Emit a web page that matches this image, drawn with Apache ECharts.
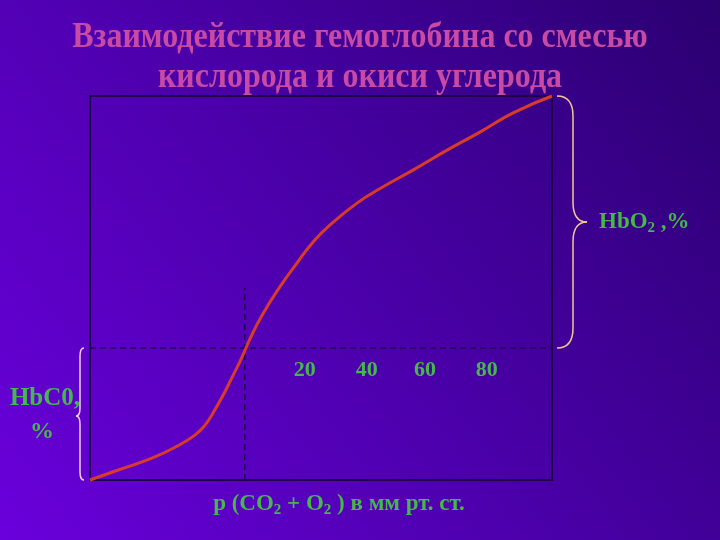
<!DOCTYPE html>
<html>
<head>
<meta charset="utf-8">
<script src="https://cdn.jsdelivr.net/npm/echarts@6/dist/echarts.min.js"></script>
<style>html,body{margin:0;padding:0;}#c{width:720px;height:540px;}</style>
</head>
<body>
<div id="c"></div>
<script>
// ---- data ----
const titleLines = ['Взаимодействие гемоглобина со смесью', 'кислорода и окиси углерода'];
const curveX = [0, 6.1, 13.4, 19.0, 22.7, 24.9, 26.6, 28.6, 30.7, 32.9, 34.6, 37.4, 41.1, 44.8, 48.3, 51.9, 57.8, 62.8, 69.9, 77.3, 84.4, 91.6, 100];
const curveY = [0, 2.6, 5.7, 8.9, 11.7, 14.3, 17.4, 21.6, 26.6, 32.0, 36.7, 43.2, 50.3, 56.5, 62.0, 66.4, 72.1, 75.9, 80.7, 85.9, 90.6, 95.6, 100];
const hLineY = 34.4;          // dashed horizontal divider level
const vLineX = 33.5;          // dashed vertical marker
const vLineTop = 50;
const tickLabels = ['20', '40', '60', '80'];
const tickPosX = [46.5, 59.9, 72.5, 85.9];
const tickPosY = 28.6;

const GREEN = '#45b84c';
const FONT = '"Liberation Serif", "Times New Roman", serif';

const chart = echarts.init(document.getElementById('c'));
const curve = curveX.map((x, i) => [x, curveY[i]]);

const option = {
  animation: false,
  backgroundColor: {
    type: 'linear', x: 0, y: 1, x2: 1, y2: 0,
    colorStops: [{offset: 0, color: '#6a00dc'}, {offset: 0.5, color: '#4a00a8'}, {offset: 1, color: '#2a0070'}]
  },
  grid: {left: 90, top: 96, right: 168, bottom: 60, show: true, borderColor: '#1c0048', borderWidth: 2, backgroundColor: 'transparent'},
  xAxis: {type: 'value', min: 0, max: 100, show: false},
  yAxis: {type: 'value', min: 0, max: 100, show: false},
  series: [
    {type: 'line', data: [[0, hLineY], [100, hLineY]], symbol: 'none', lineStyle: {color: '#220058', width: 1.5, type: [6, 4]}, z: 1},
    {type: 'line', data: [[vLineX, 0], [vLineX, vLineTop]], symbol: 'none', lineStyle: {color: '#220058', width: 1.5, type: [6, 4]}, z: 1},
    {type: 'line', data: curve, smooth: 0.5, symbol: 'none', lineStyle: {color: '#d83c28', width: 3}, z: 3}
  ]
};
chart.setOption(option);

const p = (x, y) => chart.convertToPixel({gridIndex: 0}, [x, y]);
const g = [];
// titles
titleLines.forEach((t, i) => {
  g.push({type: 'text', x: 360, y: 38 + i * 40, scaleY: 1.1, style: {text: t, font: 'bold 32px ' + FONT, fill: '#c94aa2', textAlign: 'center', textVerticalAlign: 'middle'}});
});
// tick labels
tickLabels.forEach((t, i) => {
  const q = p(tickPosX[i], tickPosY);
  g.push({type: 'text', x: q[0], y: q[1], style: {text: t, font: 'bold 22px ' + FONT, fill: GREEN, textAlign: 'center', textVerticalAlign: 'middle'}});
});
// brace helper: vertical brace from (x0,yTop) to (x0,yBot), spine at xs, tip at xt
function brace(x0, yTop, yBot, xs, xt, ym, r, color) {
  const parts = [];
  const st = {stroke: color, lineWidth: 1.5, fill: null};
  parts.push({type: 'bezierCurve', shape: {x1: x0, y1: yTop, cpx1: xs, cpy1: yTop, x2: xs, y2: yTop + r}, style: st});
  parts.push({type: 'line', shape: {x1: xs, y1: yTop + r, x2: xs, y2: ym - r}, style: st});
  parts.push({type: 'bezierCurve', shape: {x1: xs, y1: ym - r, cpx1: xs, cpy1: ym, x2: xt, y2: ym}, style: st});
  parts.push({type: 'bezierCurve', shape: {x1: xt, y1: ym, cpx1: xs, cpy1: ym, x2: xs, y2: ym + r}, style: st});
  parts.push({type: 'line', shape: {x1: xs, y1: ym + r, x2: xs, y2: yBot - r}, style: st});
  parts.push({type: 'bezierCurve', shape: {x1: xs, y1: yBot - r, cpx1: xs, cpy1: yBot, x2: x0, y2: yBot}, style: st});
  return parts;
}
const rt = p(100, 100), rb = p(100, hLineY);
const rx = rt[0] + 5, midY = (rt[1] + rb[1]) / 2, bx = rx + 16, tx = bx + 14;
g.push(...brace(rx, rt[1], rb[1], bx, tx, midY, 20, '#f2c894'));
const lt = p(0, hLineY), lb = p(0, 0);
const lx = lt[0] - 6, lmid = (lt[1] + lb[1]) / 2 + 2, lbx = lx - 4, ltx = lbx - 4;
g.push(...brace(lx, lt[1], lb[1], lbx, ltx, lmid, 8, '#f4d2e4'));
// labels with subscripts
const rich = {n: {font: 'bold 23px ' + FONT, fill: GREEN}, s: {font: 'bold 15px ' + FONT, fill: GREEN, padding: [12, 0, 0, 0]}};
g.push({type: 'text', x: tx + 12, y: midY, style: {text: '{n|HbO}{s|2}{n| ,%}', rich: rich, textVerticalAlign: 'middle'}});
g.push({type: 'text', x: 45, y: 399, style: {text: 'HbC0,', font: 'bold 25px ' + FONT, fill: GREEN, textAlign: 'center', textVerticalAlign: 'middle'}});
g.push({type: 'text', x: 42, y: 432, style: {text: '%', font: 'bold 24px ' + FONT, fill: GREEN, textAlign: 'center', textVerticalAlign: 'middle'}});
g.push({type: 'text', x: 339, y: 504, style: {text: '{n|p (CO}{s|2}{n| + O}{s|2}{n| ) в мм рт. ст.}', rich: rich, textAlign: 'center', textVerticalAlign: 'middle'}});
chart.setOption({graphic: g});
</script>
</body>
</html>
